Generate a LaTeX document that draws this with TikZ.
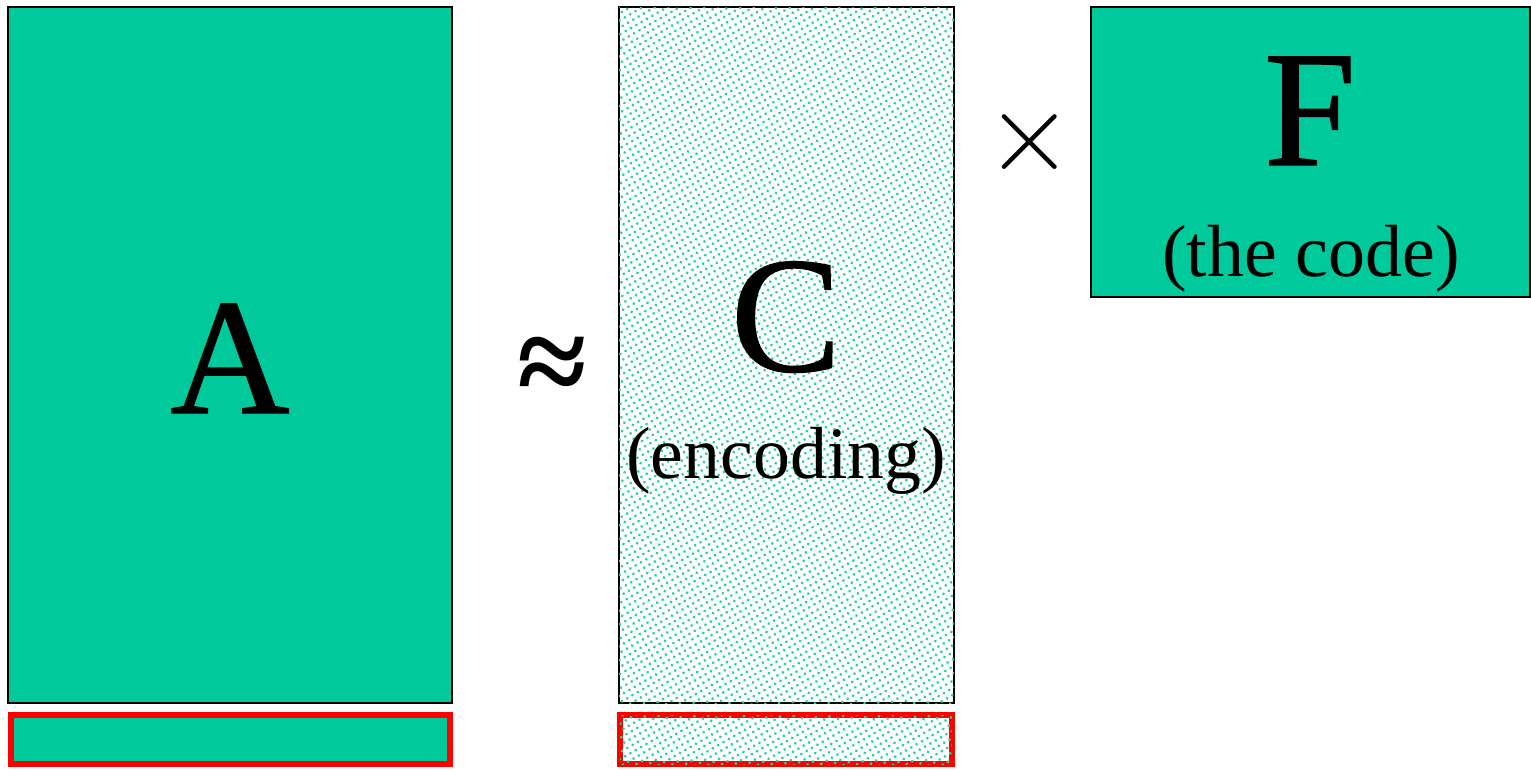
\documentclass[tikz,border=0pt]{standalone}
\usepackage{fontspec}
\setmainfont{Liberation Serif}
\newfontfamily\heavyfont[FakeBold=0.8]{Liberation Serif}
\usetikzlibrary{patterns.meta}
\definecolor{tealgreen}{RGB}{0,201,155}
\definecolor{dotgreen}{RGB}{40,210,165}
\begin{document}
\begin{tikzpicture}[x=0.01cm,y=-0.01cm,
  solidbox/.style={draw=black,line width=0.5pt,fill=tealgreen},
  dotbox/.style={draw=black,line width=0.5pt,fill=white,
    postaction={pattern={Dots[distance=1.75pt,radius=0.45pt,angle=30]},pattern color=dotgreen}},
  redbox/.style={draw=red,line width=1.8pt},
  big/.style={font=\heavyfont\fontsize{47}{50}\selectfont,inner sep=0pt},
  sub/.style={font=\fontsize{21}{24}\selectfont,inner sep=0pt}]
\useasboundingbox (0,0) rectangle (1531,769);
% A
\draw[solidbox] (8,7) rectangle (452,703);
\draw[solidbox,redbox] (11,715) rectangle (450,764);
\node[big,anchor=base] (A) at (230,413) {A};
% approx
\node[font=\fontsize{36}{40}\selectfont\bfseries,inner sep=0pt,anchor=center] (approx) at (552,371) {≈};
% C
\draw[dotbox] (619,7) rectangle (954,703);
\draw[dotbox,redbox] (620,715) rectangle (952,764);
\node[big,anchor=base] (C) at (786,371) {C};
\node[sub,anchor=base] (Csub) at (786,478) {(encoding)};
% times
\node[scale=1.3,font=\fontsize{30}{34}\selectfont,inner sep=0pt,anchor=center] (times) at (1030,142) {$\times$};
% F
\draw[solidbox] (1091,7) rectangle (1530,297);
\node[big,anchor=base] (F) at (1310,165) {F};
\node[sub,anchor=base] (Fsub) at (1311,276) {(the code)};
\end{tikzpicture}
\end{document}
